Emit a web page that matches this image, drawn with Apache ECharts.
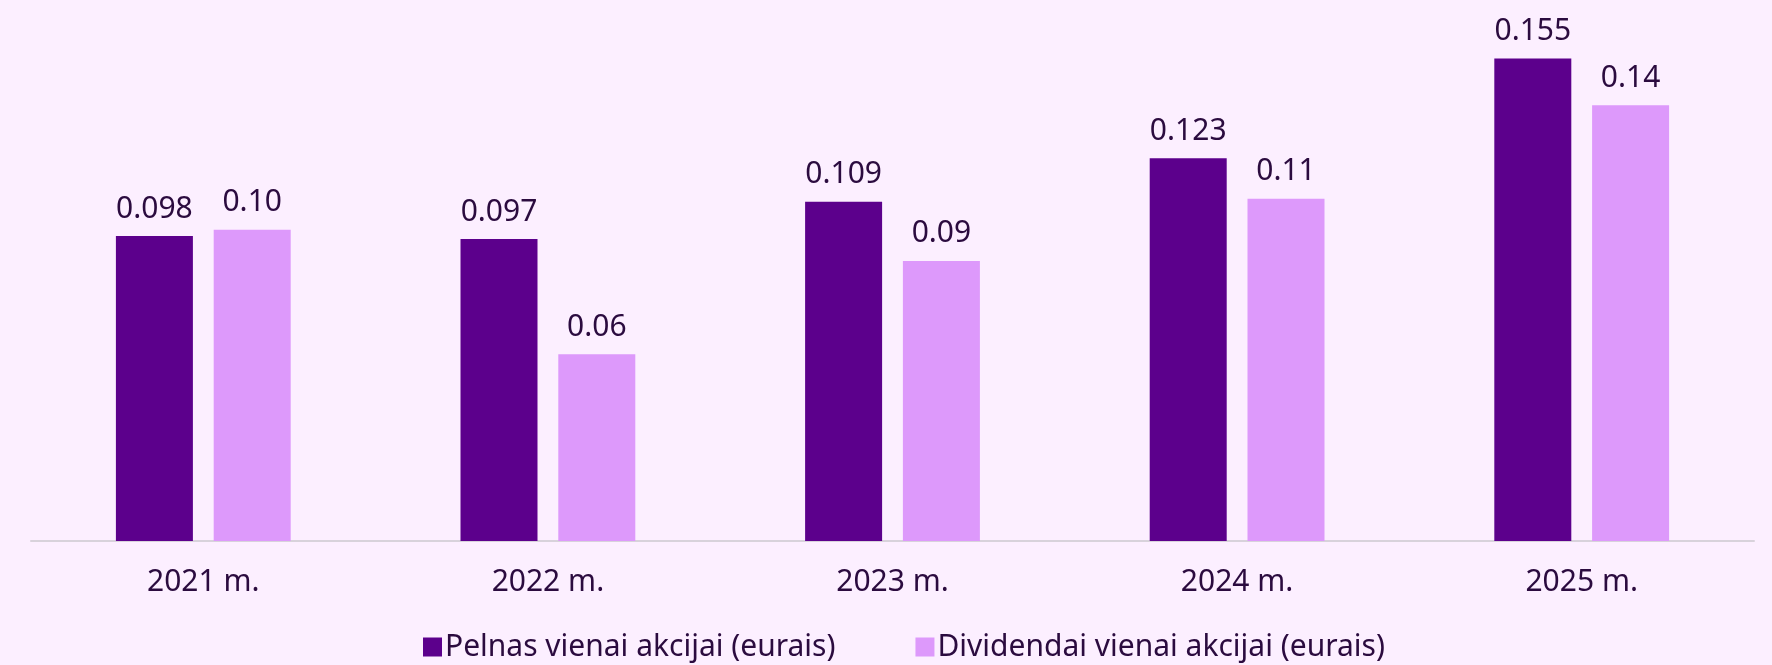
<!DOCTYPE html>
<html>
<head>
<meta charset="utf-8">
<style>
  html, body { margin: 0; padding: 0; background: #fcefff; }
  #chart { width: 1772px; height: 665px; }
</style>
<script src="https://cdn.jsdelivr.net/npm/echarts@6/dist/echarts.min.js"></script>
</head>
<body>
<div id="chart"></div>
<script>
  // duomenys
  var years = ['2021 m.', '2022 m.', '2023 m.', '2024 m.', '2025 m.'];
  var seriesNames = ['Pelnas vienai akcijai (eurais)', 'Dividendai vienai akcijai (eurais)'];
  var pelnas = [0.098, 0.097, 0.109, 0.123, 0.155];
  var dividendai = [0.10, 0.06, 0.09, 0.11, 0.14];
  var dividendaiLabels = ['0.10', '0.06', '0.09', '0.11', '0.14'];

  var textColor = '#2b0b3f';
  var font = 'Noto Sans';

  var chart = echarts.init(document.getElementById('chart'));
  chart.setOption({
    backgroundColor: '#fcefff',
    textStyle: { fontFamily: font, color: textColor },
    legend: {
      bottom: -2,
      left: 418,
      itemWidth: 19,
      itemHeight: 19,
      itemGap: 80,
      icon: 'rect',
      textStyle: { fontFamily: font, fontSize: 30, color: textColor, padding: [0, 0, 0, -2] },
      data: seriesNames
    },
    grid: {
      left: 31,
      right: 18,
      top: 43,
      height: 498,
      containLabel: false
    },
    xAxis: {
      type: 'category',
      data: years,
      axisLine: { show: true, lineStyle: { color: '#d8d2db', width: 2 } },
      axisTick: { show: false },
      axisLabel: { fontFamily: font, fontSize: 30, color: textColor, margin: 26 }
    },
    yAxis: {
      type: 'value',
      min: 0,
      max: 0.16,
      show: false,
      splitLine: { show: false }
    },
    series: [
      {
        name: seriesNames[0],
        type: 'bar',
        data: pelnas,
        barWidth: 77,
        barGap: '27%',
        itemStyle: { color: '#5c008c' },
        label: {
          show: true,
          position: 'top',
          distance: 12,
          fontFamily: font,
          fontSize: 30,
          color: textColor,
          formatter: function (p) { return p.value.toFixed(3); }
        }
      },
      {
        name: seriesNames[1],
        type: 'bar',
        data: dividendai,
        barWidth: 77,
        itemStyle: { color: '#dd99fb' },
        label: {
          show: true,
          position: 'top',
          distance: 12,
          fontFamily: font,
          fontSize: 30,
          color: textColor,
          formatter: function (p) { return dividendaiLabels[p.dataIndex]; }
        }
      }
    ]
  });
</script>
</body>
</html>
